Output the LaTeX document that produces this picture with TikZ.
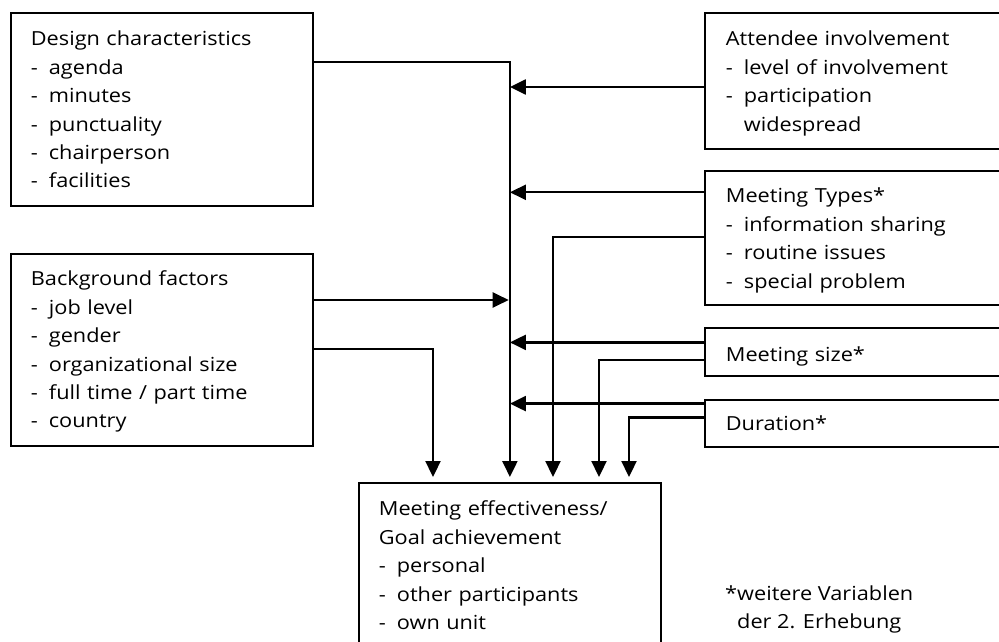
\documentclass[tikz,border=0pt]{standalone}
\usepackage{fontspec}
\setmainfont{Open Sans}[FakeStretch=1.12]
\usetikzlibrary{arrows.meta}
% list dash with a fixed hanging indent
\newcommand\itm{\makebox[18pt][l]{-}}
\newcommand\hang{\hspace*{18pt}}
% invisible struts fixing the space above the first and below the last line
\newcommand\topgap[1]{\rule{0pt}{#1pt}}
\newcommand\botgap[1]{\rule[-#1pt]{0pt}{#1pt}}
\begin{document}
\begin{tikzpicture}[x=1pt,y=-1pt,
  box/.style={draw, line width=1.8pt, rectangle, anchor=north west,
    inner xsep=20pt, inner ysep=0pt, align=left, text width=262pt,
    font=\fontsize{19.4}{28.4}\selectfont},
  rbox/.style={box, inner xsep=21pt, text width=264pt},
  conn/.style={line width=2.3pt, line join=miter,
    -{Triangle[length=16pt,width=15pt]}},
  notetext/.style={anchor=north west, inner sep=0pt, align=left,
    font=\fontsize{19.4}{28.4}\selectfont}]
\fill[white] (0,0) rectangle (999,642);
\useasboundingbox (0,0) rectangle (999,642);
\clip (0,0) rectangle (999,642);

% left column
\node[box] (design) at (10,12) {\topgap{33}Design characteristics\\
  \itm agenda\\ \itm minutes\\ \itm punctuality\\ \itm chairperson\\
  \itm facilities\botgap{18}};
\node[box] (bg) at (10,253) {\topgap{32}Background factors\\
  \itm job level\\ \itm gender\\ \itm organizational size\\
  \itm full time / part time\\ \itm country\botgap{18}};

% right column
\node[rbox] (att) at (704,12) {\topgap{33}Attendee involvement\\
  \itm level of involvement\\ \itm participation\\
  \hang widespread\botgap{18}};
\node[rbox] (types) at (704,170) {\topgap{32}Meeting Types*\\
  \itm information sharing\\ \itm routine issues\\
  \itm special problem\botgap{17}};
\node[rbox] (size) at (704,327) {\topgap{34}Meeting size*\botgap{14}};
\node[rbox] (dur) at (704,399) {\topgap{31}Duration*\botgap{16}};

% outcome
\node[box] (goal) at (358,482) {\topgap{33}Meeting effectiveness/\\
  Goal achievement\\ \itm personal\\ \itm other participants\\
  \itm own unit\botgap{19}};

\node[notetext] (note) at (725,570) {\topgap{30}*weitere Variablen\\
  \phantom{*}der 2. Erhebung};

% connection points
\coordinate (dsout)  at ([yshift=-50pt]design.north east);
\coordinate (bgout1) at ([yshift=-47pt]bg.north east);
\coordinate (bgout2) at ([yshift=-95.7pt]bg.north east);
\coordinate (atout)  at ([yshift=-75pt]att.north west);
\coordinate (tyout1) at ([yshift=-22.3pt]types.north west);
\coordinate (tyout2) at ([yshift=-67.3pt]types.north west);
\coordinate (szout1) at ([yshift=-15.4pt]size.north west);
\coordinate (szout2) at ([yshift=-32.7pt]size.north west);
\coordinate (duout1) at ([yshift=-4.6pt]dur.north west);
\coordinate (duout2) at ([yshift=-18.6pt]dur.north west);
\coordinate (colbg) at (433,0);
\coordinate (colty) at (553,0);
\coordinate (colsz) at (599,0);
\coordinate (coldu) at (629,0);

% main collecting line
\draw[conn, shorten >=5pt] (dsout) -| (goal.north);
% inputs joining the collecting line
\draw[conn, shorten >=1.2pt] (bgout1) -- (bgout1 -| goal.north);
\draw[conn] (atout) -- (atout -| goal.north);
\draw[conn] (tyout1) -- (tyout1 -| goal.north);
\draw[conn] (szout1) -- (szout1 -| goal.north);
\draw[conn] (duout1) -- (duout1 -| goal.north);
% direct inputs to the outcome
\draw[conn, shorten >=5pt] (bgout2) -| (goal.north -| colbg);
\draw[conn, shorten >=5pt] (tyout2) -| (goal.north -| colty);
\draw[conn, shorten >=5pt] (szout2) -| (goal.north -| colsz);
\draw[conn, shorten >=5pt] (duout2) -| (goal.north -| coldu);
\end{tikzpicture}
\end{document}
